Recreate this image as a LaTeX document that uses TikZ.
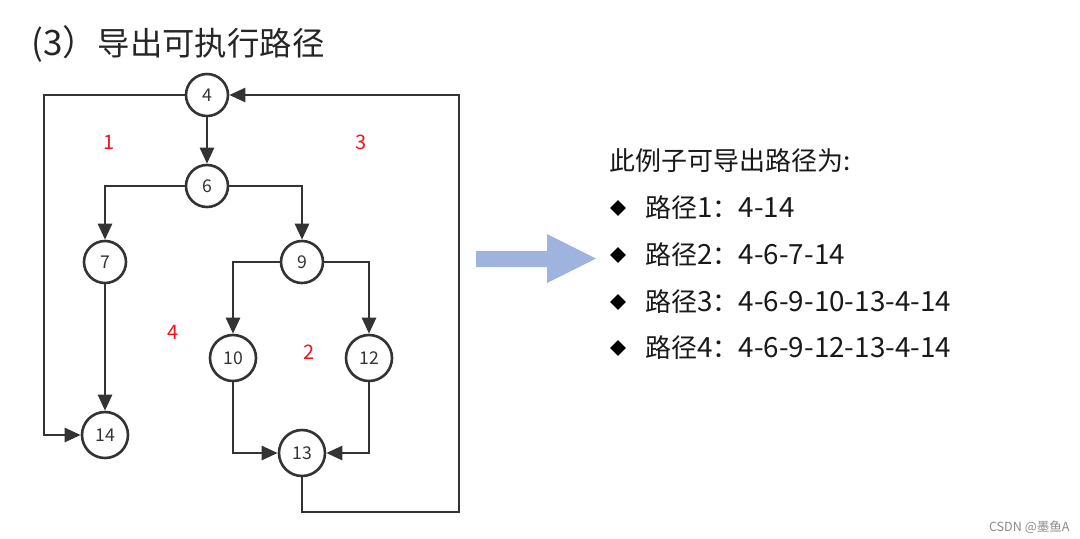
\documentclass[tikz,border=0pt]{standalone}
\usepackage{fontspec}
\setmainfont{Noto Sans CJK SC}
\usetikzlibrary{arrows.meta,shapes.geometric}
\definecolor{linec}{HTML}{333333}
\definecolor{arrowblue}{HTML}{9EB3DE}
\definecolor{regionred}{HTML}{F0141E}
\definecolor{wmgray}{HTML}{8C8C8C}
\newcommand{\latn}[1]{{\fontsize{13.9}{15}\selectfont #1}}
\begin{document}
\begin{tikzpicture}[x=0.5pt,y=-0.5pt,
  nd/.style={draw=linec,line width=1.3pt,circle,inner sep=0pt,minimum size=21pt,
    font=\fontsize{8.8}{10}\selectfont,text=linec,fill=white},
  bignd/.style={nd,minimum size=23pt},
  edge/.style={draw=linec,line width=1.3pt,-{Triangle[length=8pt,width=7pt]}},
  region/.style={text=regionred,font=\fontsize{10}{11}\selectfont},
  bodytext/.style={anchor=west,inner sep=0pt,font=\fontsize{13}{14}\selectfont,text=black!90},
  bulletmark/.style={diamond,fill=black,inner sep=0pt,minimum size=8pt}]
\useasboundingbox (0,0) rectangle (1080,538);
\fill[white] (0,0) rectangle (1080,538);

% title
\node[anchor=west,inner sep=0pt,font=\fontsize{16.2}{18}\selectfont,text=black!85] (title) at (31,44) {{\fontsize{17.5}{18}\selectfont(3）}导出可执行路径};

% graph nodes
\node[nd] (n4) at (207,95) {4};
\node[nd] (n6) at (207,186) {6};
\node[nd] (n7) at (105,262) {7};
\node[nd] (n9) at (302,262) {9};
\node[bignd] (n10) at (233,358) {10};
\node[bignd] (n12) at (369,358) {12};
\node[bignd] (n14) at (105,435) {14};
\node[bignd] (n13) at (302,453) {13};

\coordinate (tl) at (44,95);
\coordinate (br) at (459,512);

% connectors
\draw[edge] (n4) -- (n6);
\draw[edge] (n6) -| (n7);
\draw[edge] (n6) -| (n9);
\draw[edge] (n7) -- (n14);
\draw[edge] (n9) -| (n10);
\draw[edge] (n9) -| (n12);
\draw[edge] (n10) |- (n13);
\draw[edge] (n12) |- (n13);
\draw[edge] (n4) -- (tl) |- (n14);
\draw[edge] (n13) |- (br) |- (n4);

% region labels
\node[region] (r1) at (109,142) {1};
\node[region] (r3) at (361,142) {3};
\node[region] (r4) at (173,332) {4};
\node[region] (r2) at (309,352) {2};

% big arrow
\fill[arrowblue] (476,251) -- (547,251) -- (547,234) -- (596,258.5) -- (547,283) -- (547,267) -- (476,267) -- cycle;

% right text
\node[bodytext] (head) at (609,161) {此例子可导出路径为:};
\node[bulletmark] (b1) at (618,208) {};
\node[bulletmark] (b2) at (618,255) {};
\node[bulletmark] (b3) at (618,302) {};
\node[bulletmark] (b4) at (618,348) {};
\node[bodytext] (p1) at (645,208) {路径\latn{1}：\latn{4-14}};
\node[bodytext] (p2) at (645,255) {路径\latn{2}：\latn{4-6-7-14}};
\node[bodytext] (p3) at (645,302) {路径\latn{3}：\latn{4-6-9-10-13-4-14}};
\node[bodytext] (p4) at (645,348) {路径\latn{4}：\latn{4-6-9-12-13-4-14}};

% watermark
\node[anchor=east,inner sep=0pt,font=\fontsize{6.3}{7}\selectfont,text=wmgray] (wm) at (1070,527) {CSDN @墨鱼A};
\end{tikzpicture}
\end{document}
